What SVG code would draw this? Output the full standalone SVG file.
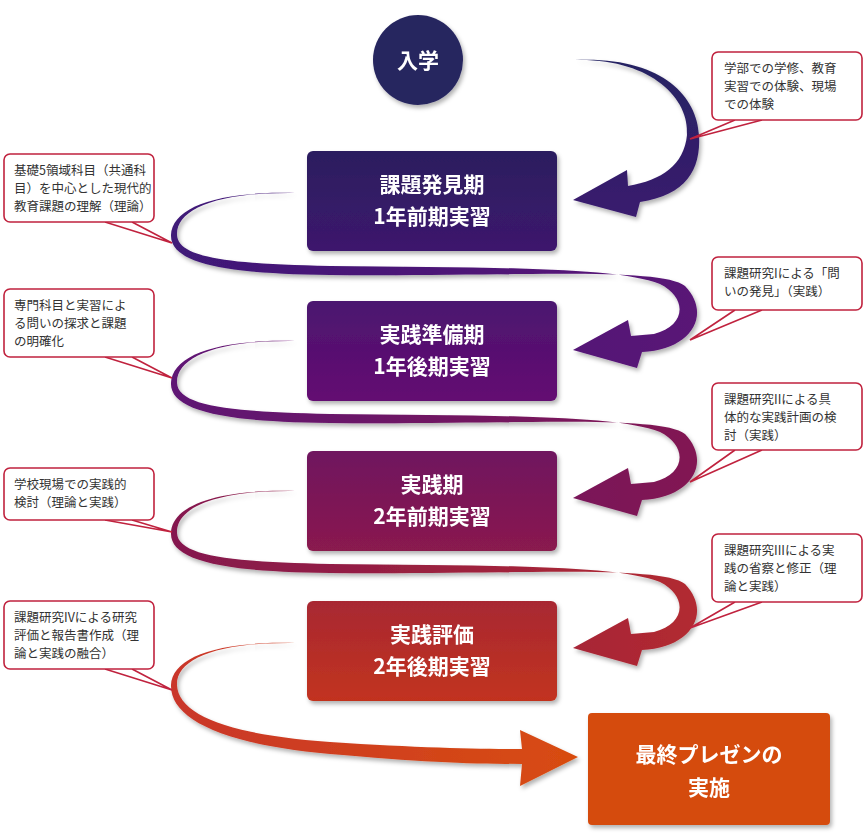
<svg xmlns="http://www.w3.org/2000/svg" width="865" height="835" viewBox="0 0 865 835">
<defs>
<style>
.bt{font-family:"Noto Sans CJK JP","Noto Sans",sans-serif;font-weight:bold;font-size:21px;fill:#fff;text-anchor:middle}
.ct{font-family:"Noto Sans CJK JP","Noto Sans",sans-serif;font-size:12.5px;fill:#333}
.cb{fill:#fff;stroke:#c0223e;stroke-width:1.6}
.tail{fill:#fff;stroke:#c0223e;stroke-width:1.6;stroke-linejoin:miter}
</style>
<filter id="sh" x="-10%" y="-10%" width="130%" height="130%"><feDropShadow dx="2" dy="3" stdDeviation="2" flood-color="#000" flood-opacity="0.3"/></filter>
<linearGradient id="g0" x1="0" y1="0" x2="0" y2="1"><stop offset="0" stop-color="#262463"/><stop offset="1" stop-color="#3a1a6e"/></linearGradient>
<linearGradient id="g1" x1="0" y1="0" x2="1" y2="0"><stop offset="0" stop-color="#3f1a78"/><stop offset="1" stop-color="#5a1276"/></linearGradient>
<linearGradient id="g2" x1="0" y1="0" x2="1" y2="0"><stop offset="0" stop-color="#5e1274"/><stop offset="1" stop-color="#821852"/></linearGradient>
<linearGradient id="g3" x1="0" y1="0" x2="1" y2="0"><stop offset="0" stop-color="#84184f"/><stop offset="1" stop-color="#b22a30"/></linearGradient>
<linearGradient id="g5" x1="0" y1="0" x2="1" y2="0"><stop offset="0" stop-color="#c9362a"/><stop offset="1" stop-color="#d84c10"/></linearGradient>
<linearGradient id="b1" x1="0" y1="0" x2="0" y2="1"><stop offset="0" stop-color="#2b1d5f"/><stop offset="1" stop-color="#3d186d"/></linearGradient>
<linearGradient id="b2" x1="0" y1="0" x2="0" y2="1"><stop offset="0" stop-color="#4b156f"/><stop offset="1" stop-color="#640c72"/></linearGradient>
<linearGradient id="b3" x1="0" y1="0" x2="0" y2="1"><stop offset="0" stop-color="#6f145f"/><stop offset="1" stop-color="#8a1a4e"/></linearGradient>
<linearGradient id="b4" x1="0" y1="0" x2="0" y2="1"><stop offset="0" stop-color="#a82832"/><stop offset="1" stop-color="#c2331f"/></linearGradient>
<path id="loop" d="M295,193 C215,192 176,210 177,235 C178,258 230,264 330,266 C480,268 615,266 660,284 C688,298 686,326 654,334 L631,336 L628,320 L573,350 L637,368 L642,352 C692,350 712,314 685,286 C660,266 500,277 330,275 C220,274 170,262 171,235 C172,208 215,191 295,193 Z"/>
</defs>
<rect width="865" height="835" fill="#fff"/>
<g id="connectors" filter="url(#sh)">
<path fill="url(#g0)" d="M575,60 C650,58 690,98 687,135 C684,165 662,180 628,186 L627,170 L573,200 L636,217 L640,202 C686,195 701,170 699,135 C697,95 660,56 575,60 Z"/>
<use href="#loop" fill="url(#g1)"/>
<use href="#loop" fill="url(#g2)" transform="translate(0,148)"/>
<use href="#loop" fill="url(#g3)" transform="translate(0,298)"/>
<path fill="url(#g5)" d="M295,643 C215,642 176,660 177,685 C178,715 230,735 330,742 C420,748 480,749 522,749 L520,730 L578,757 L520,786 L522,764 C470,764 420,762 330,754 C220,744 170,718 171,685 C172,658 215,641 295,643 Z"/>
</g>
<g id="n0" filter="url(#sh)"><circle cx="418" cy="60" r="45" fill="#27265f"/><text class="bt" x="418" y="68">入学</text></g>
<g id="n1" filter="url(#sh)"><rect x="307" y="151" width="250" height="100" rx="6" fill="url(#b1)"/><text class="bt" x="432" y="192">課題発見期</text><text class="bt" x="432" y="224">1年前期実習</text></g>
<g id="n2" filter="url(#sh)"><rect x="307" y="301" width="250" height="100" rx="6" fill="url(#b2)"/><text class="bt" x="432" y="342">実践準備期</text><text class="bt" x="432" y="374">1年後期実習</text></g>
<g id="n3" filter="url(#sh)"><rect x="307" y="451" width="250" height="100" rx="6" fill="url(#b3)"/><text class="bt" x="432" y="492">実践期</text><text class="bt" x="432" y="524">2年前期実習</text></g>
<g id="n4" filter="url(#sh)"><rect x="307" y="601" width="250" height="100" rx="6" fill="url(#b4)"/><text class="bt" x="432" y="642">実践評価</text><text class="bt" x="432" y="674">2年後期実習</text></g>
<g id="n5" filter="url(#sh)"><rect x="588" y="713" width="242" height="112" rx="4" fill="#d54b10"/><text class="bt" x="709" y="762">最終プレゼンの</text><text class="bt" x="709" y="795">実施</text></g>
<g id="c1"><path class="tail" d="M735,120 L690,139 L762,120"/><rect class="cb" x="712" y="52" width="150" height="68" rx="6"/><text class="ct" x="724" y="73">学部での学修、教育</text><text class="ct" x="724" y="91">実習での体験、現場</text><text class="ct" x="724" y="109">での体験</text></g>
<g id="c2"><path class="tail" d="M105,222 L172,243 L132,222"/><rect class="cb" x="4" y="154" width="150" height="68" rx="6"/><text class="ct" x="14" y="175">基礎5領域科目（共通科</text><text class="ct" x="14" y="193">目）を中心とした現代的</text><text class="ct" x="14" y="211">教育課題の理解（理論）</text></g>
<g id="c3"><path class="tail" d="M735,310 L690,340 L762,310"/><rect class="cb" x="712" y="257" width="150" height="53" rx="6"/><text class="ct" x="724" y="278">課題研究Iによる「問</text><text class="ct" x="724" y="296">いの発見」（実践）</text></g>
<g id="c4"><path class="tail" d="M105,357 L172,378 L132,357"/><rect class="cb" x="4" y="289" width="150" height="68" rx="6"/><text class="ct" x="14" y="310">専門科目と実習によ</text><text class="ct" x="14" y="328">る問いの探求と課題</text><text class="ct" x="14" y="346">の明確化</text></g>
<g id="c5"><path class="tail" d="M735,450 L690,482 L762,450"/><rect class="cb" x="712" y="383" width="150" height="67" rx="6"/><text class="ct" x="724" y="404">課題研究IIによる具</text><text class="ct" x="724" y="422">体的な実践計画の検</text><text class="ct" x="724" y="440">討（実践）</text></g>
<g id="c6"><path class="tail" d="M105,520 L172,532 L132,520"/><rect class="cb" x="4" y="468" width="150" height="52" rx="6"/><text class="ct" x="14" y="489">学校現場での実践的</text><text class="ct" x="14" y="507">検討（理論と実践）</text></g>
<g id="c7"><path class="tail" d="M735,602 L690,628 L762,602"/><rect class="cb" x="712" y="534" width="150" height="68" rx="6"/><text class="ct" x="724" y="555">課題研究IIIによる実</text><text class="ct" x="724" y="573">践の省察と修正（理</text><text class="ct" x="724" y="591">論と実践）</text></g>
<g id="c8"><path class="tail" d="M105,669 L172,690 L132,669"/><rect class="cb" x="4" y="601" width="150" height="68" rx="6"/><text class="ct" x="14" y="622">課題研究IVによる研究</text><text class="ct" x="14" y="640">評価と報告書作成（理</text><text class="ct" x="14" y="658">論と実践の融合）</text></g>
</svg>
